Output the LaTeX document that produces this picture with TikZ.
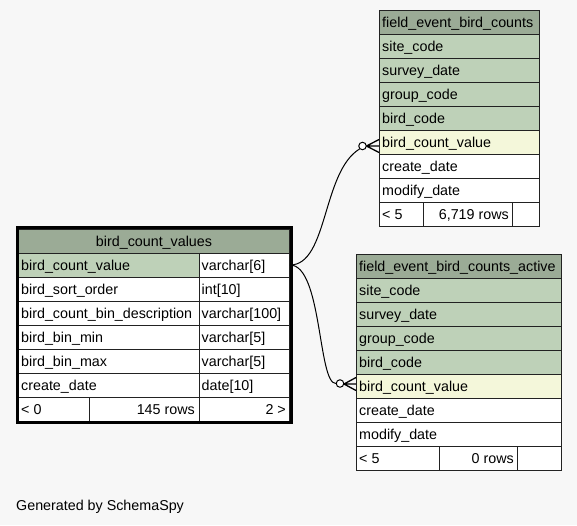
\documentclass[tikz,border=0pt]{standalone}
\usepackage{fontspec}
\setmainfont{Liberation Sans}
\definecolor{bgc}{HTML}{F7F7F7}
\definecolor{hdrc}{HTML}{9BAB96}
\definecolor{pkc}{HTML}{BED1B8}
\definecolor{fkc}{HTML}{F4F7DA}
\definecolor{linec}{HTML}{222222}
\begin{document}
\begin{tikzpicture}[x=1pt,y=-1pt,font=\fontsize{14.3}{16}\selectfont]
\tikzset{
  cellbox/.style={draw=linec,line width=0.9pt},
  txt/.style={anchor=base west,inner sep=0pt,text=black},
  txtr/.style={anchor=base east,inner sep=0pt,text=black},
  txtc/.style={anchor=base,inner sep=0pt,text=black},
  conn/.style={draw=black,line width=1pt},
  crow/.style={draw=black,line width=1.3pt},
  ring/.style={circle,draw=black,fill=white,line width=1pt,minimum size=7.5pt,inner sep=0pt},
}
\useasboundingbox (0,0) rectangle (577,525);
\fill[bgc] (0,0) rectangle (577,525);

% ---------- main table: bird_count_values ----------
\path[cellbox,fill=hdrc] (18.5,229) rectangle (289.5,253);
\node[txtc] (mh) at (154,246) {bird\_count\_values};
\path[cellbox,fill=pkc] (18.5,253) rectangle (199,277);
\path[cellbox,fill=white] (199,253) rectangle (289.5,277);
\foreach \i in {1,...,5}{
  \path[cellbox,fill=white] (18.5,253+24*\i) rectangle (199,277+24*\i);
  \path[cellbox,fill=white] (199,253+24*\i) rectangle (289.5,277+24*\i);
}
\path[cellbox,fill=white] (18.5,397) rectangle (89,421);
\path[cellbox,fill=white] (89,397) rectangle (199,421);
\path[cellbox,fill=white] (199,397) rectangle (289.5,421);
\draw[line width=3pt,black] (17,227.5) rectangle (291,422.5);
\node[txt] (m1a) at (21,270) {bird\_count\_value};
\node[txt] (m1b) at (201.5,270) {varchar[6]};
\node[txt] (m2a) at (21,294) {bird\_sort\_order};
\node[txt] (m2b) at (201.5,294) {int[10]};
\node[txt] (m3a) at (21,318) {bird\_count\_bin\_description};
\node[txt] (m3b) at (201.5,318) {varchar[100]};
\node[txt] (m4a) at (21,342) {bird\_bin\_min};
\node[txt] (m4b) at (201.5,342) {varchar[5]};
\node[txt] (m5a) at (21,366) {bird\_bin\_max};
\node[txt] (m5b) at (201.5,366) {varchar[5]};
\node[txt] (m6a) at (21,390) {create\_date};
\node[txt] (m6b) at (201.5,390) {date[10]};
\node[txt] (mfa) at (21,414) {< 0};
\node[txtr] (mfb) at (195,414) {145 rows};
\node[txtr] (mfc) at (286,414) {2 >};

% ---------- table: field_event_bird_counts ----------
\path[cellbox,fill=hdrc] (379,10) rectangle (539,34);
\path[cellbox,fill=pkc] (379,34) rectangle (539,58);
\path[cellbox,fill=pkc] (379,58) rectangle (539,82);
\path[cellbox,fill=pkc] (379,82) rectangle (539,106);
\path[cellbox,fill=pkc] (379,106) rectangle (539,130);
\path[cellbox,fill=fkc] (379,130) rectangle (539,154);
\path[cellbox,fill=white] (379,154) rectangle (539,178);
\path[cellbox,fill=white] (379,178) rectangle (539,202);
\path[cellbox,fill=white] (379,202) rectangle (423.5,226);
\path[cellbox,fill=white] (423.5,202) rectangle (512.5,226);
\path[cellbox,fill=white] (512.5,202) rectangle (539,226);
\node[txt] (ah) at (382,27) {field\_event\_bird\_counts};
\node[txt] (a1) at (382,51) {site\_code};
\node[txt] (a2) at (382,75) {survey\_date};
\node[txt] (a3) at (382,99) {group\_code};
\node[txt] (a4) at (382,123) {bird\_code};
\node[txt] (a5) at (382,147) {bird\_count\_value};
\node[txt] (a6) at (382,171) {create\_date};
\node[txt] (a7) at (382,195) {modify\_date};
\node[txt] (afa) at (382,219) {< 5};
\node[txtr] (afb) at (509,219) {6,719 rows};

% ---------- table: field_event_bird_counts_active ----------
\path[cellbox,fill=hdrc] (356,254) rectangle (561,278);
\path[cellbox,fill=pkc] (356,278) rectangle (561,302);
\path[cellbox,fill=pkc] (356,302) rectangle (561,326);
\path[cellbox,fill=pkc] (356,326) rectangle (561,350);
\path[cellbox,fill=pkc] (356,350) rectangle (561,374);
\path[cellbox,fill=fkc] (356,374) rectangle (561,398);
\path[cellbox,fill=white] (356,398) rectangle (561,422);
\path[cellbox,fill=white] (356,422) rectangle (561,446);
\path[cellbox,fill=white] (356,446) rectangle (439,470);
\path[cellbox,fill=white] (439,446) rectangle (517,470);
\path[cellbox,fill=white] (517,446) rectangle (561,470);
\node[txt] (bh) at (359,271) {field\_event\_bird\_counts\_active};
\node[txt] (b1) at (359,295) {site\_code};
\node[txt] (b2) at (359,319) {survey\_date};
\node[txt] (b3) at (359,343) {group\_code};
\node[txt] (b4) at (359,367) {bird\_code};
\node[txt] (b5) at (359,391) {bird\_count\_value};
\node[txt] (b6) at (359,415) {create\_date};
\node[txt] (b7) at (359,439) {modify\_date};
\node[txt] (bfa) at (359,463) {< 5};
\node[txtr] (bfb) at (514,463) {0 rows};

% ---------- connectors ----------
\coordinate (src) at (290,265);
\node[ring] (r1) at (362.5,146) {};
\node[ring] (r2) at (340,383.5) {};
\coordinate (ap1) at (366.5,146);
\coordinate (e1a) at (379,139.5);
\coordinate (e1b) at (379,146);
\coordinate (e1c) at (379,152.5);
\coordinate (ap2) at (344,384);
\coordinate (e2a) at (356,377.5);
\coordinate (e2b) at (356,384);
\coordinate (e2c) at (356,390.5);
\draw[conn] (src) .. controls (328,265) and (322,172) .. (r1.south west);
\draw[conn] (src) .. controls (322,265) and (318,383.5) .. (r2.west);
\draw[crow] (ap1) -- (e1a) (ap1) -- (e1b) (ap1) -- (e1c);
\draw[crow] (ap2) -- (e2a) (ap2) -- (e2b) (ap2) -- (e2c);

\node[txt] (gen) at (16,510) {Generated by SchemaSpy};
\end{tikzpicture}
\end{document}
